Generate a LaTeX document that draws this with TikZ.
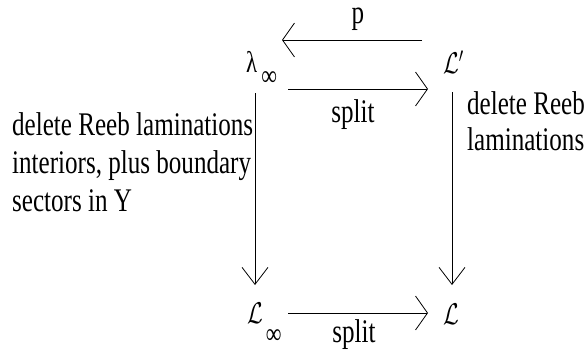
\documentclass[tikz,border=0pt]{standalone}
\usepackage{fix-cm}
\usepackage{graphicx}
\usepackage{fontspec}
\setmainfont[FakeStretch=0.76]{Liberation Serif}
\usetikzlibrary{arrows.meta}
\tikzset{
  lbl/.style={inner sep=0pt, anchor=base west, font=\fontsize{33}{38}\selectfont},
  lblc/.style={inner sep=0pt, anchor=base, font=\fontsize{33}{38}\selectfont},
  sym/.style={inner sep=0pt, anchor=base west},
  arrH/.style={line width=0.8pt, -{Straight Barb[length=12pt,width=34pt]}},
  arrV/.style={line width=0.8pt, -{Straight Barb[length=17pt,width=26pt]}},
}
\newcommand{\scrL}{\scalebox{0.76}[1]{\fontsize{30}{30}\selectfont$\mathcal{L}$}}
\newcommand{\scrLp}{\scalebox{0.76}[1]{\fontsize{30}{30}\selectfont$\mathcal{L}'$}}
\newcommand{\infsub}{{\fontsize{29}{29}\selectfont ∞}}
\begin{document}
\begin{tikzpicture}[x=1pt,y=-1pt]
\useasboundingbox (0,0) rectangle (585,356);
\fill[white] (0,0) rectangle (585,356);

% corner objects
\node[sym] (lam)  at (246,72)  {{\fontsize{30}{30}\selectfont λ}\kern4pt\raisebox{-13pt}{\infsub}};
\node[sym] (Lp)   at (443,73)  {\scrLp};
\node[sym] (Linf) at (247,323) {\scrL\kern3pt\raisebox{-20pt}{\infsub}};
\node[sym] (L)    at (443,324) {\scrL};

% arrow labels
\node[lblc] (plbl)  at (358,23)  {p};
\node[lblc] (split1) at (353,122) {split};
\node[lblc] (split2) at (354,342) {split};

% side descriptions
\node[lbl] (left1) at (12,135) {delete Reeb laminations};
\node[lbl] (left2) at (12,173) {interiors, plus boundary};
\node[lbl] (left3) at (12,211) {sectors in Y};
\node[lbl] (right1) at (467,114) {delete Reeb};
\node[lbl] (right2) at (467,150) {laminations};

% arrow end points
\coordinate (pFrom) at (422,40);
\coordinate (pTo)   at (282,40);
\coordinate (sFrom) at (288,89);
\coordinate (sTo)   at (428,89);
\coordinate (bFrom) at (288,313);
\coordinate (bTo)   at (428,313);
\coordinate (lFrom) at (255,93);
\coordinate (lTo)   at (255,285);
\coordinate (rFrom) at (452,92);
\coordinate (rTo)   at (452,285);

\draw[arrH] (pFrom) -- (pTo);
\draw[arrH] (sFrom) -- (sTo);
\draw[arrH] (bFrom) -- (bTo);
\draw[arrV] (lFrom) -- (lTo);
\draw[arrV] (rFrom) -- (rTo);
\end{tikzpicture}
\end{document}
